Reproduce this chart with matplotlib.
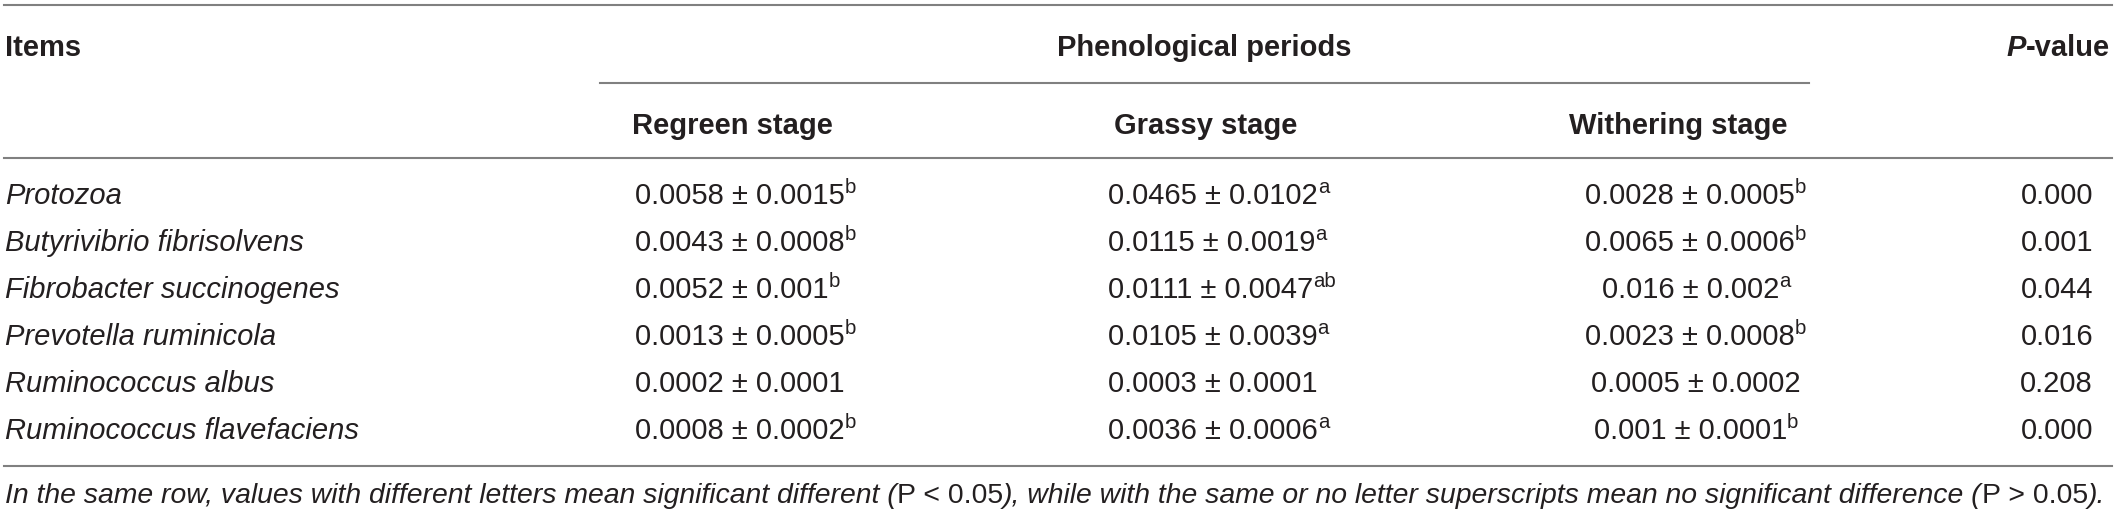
import matplotlib
matplotlib.use('Agg')
import matplotlib.pyplot as plt
from matplotlib.lines import Line2D
from matplotlib.transforms import IdentityTransform

# ---------------------------------------
#  Table content
# ---------------------------------------
items = ["Protozoa", "Butyrivibrio fibrisolvens", "Fibrobacter succinogenes",
         "Prevotella ruminicola", "Ruminococcus albus", "Ruminococcus flavefaciens"]

stages = ["Regreen stage", "Grassy stage", "Withering stage"]

regreen_mean = ["0.0058", "0.0043", "0.0052", "0.0013", "0.0002", "0.0008"]
regreen_sd   = ["0.0015", "0.0008", "0.001",  "0.0005", "0.0001", "0.0002"]
regreen_let  = ["b", "b", "b", "b", "", "b"]

grassy_mean = ["0.0465", "0.0115", "0.0111", "0.0105", "0.0003", "0.0036"]
grassy_sd   = ["0.0102", "0.0019", "0.0047", "0.0039", "0.0001", "0.0006"]
grassy_let  = ["a", "a", "ab", "a", "", "a"]

wither_mean = ["0.0028", "0.0065", "0.016", "0.0023", "0.0005", "0.001"]
wither_sd   = ["0.0005", "0.0006", "0.002", "0.0008", "0.0002", "0.0001"]
wither_let  = ["b", "b", "a", "b", "", "b"]

p_values = ["0.000", "0.001", "0.044", "0.016", "0.208", "0.000"]

# ---------------------------------------
#  Layout (pixels, y from top)
# ---------------------------------------
W, H, DPI = 2117, 515, 100
FONT = "Liberation Sans"
INK = "#231f20"
RULE = "#808080"
FS = 21
FS_NOTE = 20.4

X_ITEM, X_REG, X_GRA, X_WIT, X_P = 5, 635, 1108, 1696, 2093
Y_HEAD1, Y_HEAD2 = 56, 134
Y_ROW0, ROW_STEP = 204, 47
Y_NOTE = 503

fig = plt.figure(figsize=(W / DPI, H / DPI), dpi=DPI)
renderer = fig.canvas.get_renderer()


def put(x, y, runs, ha='left'):
    """Draw a sequence of styled text runs on one baseline."""
    arts = []
    cx = 0.0
    for s, kw in runs:
        kw = dict(kw)
        sup = kw.pop('sup', False)
        size = kw.pop('size', FS)
        dy = 0
        if sup:
            dy = size * DPI / 72 * 0.38
            size = size * 0.70
        t = fig.text(cx, H - y + dy, s, transform=IdentityTransform(),
                     fontsize=size, va='baseline', ha='left', color=INK,
                     family=FONT, **kw)
        cx += t.get_window_extent(renderer).width
        arts.append(t)
    shift = {'left': 0, 'center': -cx / 2, 'right': -cx}[ha]
    for t in arts:
        px, py = t.get_position()
        t.set_position((px + x + shift, py))


def hline(y, x0=4, x1=2112):
    fig.add_artist(Line2D([x0 / W, x1 / W], [1 - y / H, 1 - y / H],
                          color=RULE, lw=1.5))


def cell(mean, sd, let):
    runs = [(f"{mean} \u00b1 {sd}", {})]
    if let:
        runs.append((let, {'sup': True}))
    return runs


# rules
hline(5)
hline(83, 600, 1809)
hline(158)
hline(466)

# header
bold = {'weight': 'bold'}
put(X_ITEM, Y_HEAD1, [("Items", bold)])
put(1204, Y_HEAD1, [("Phenological periods", bold)], ha='center')
put(2110, Y_HEAD1, [("P", {'weight': 'bold', 'style': 'italic'}), ("-value", bold)], ha='right')
put(632, Y_HEAD2, [(stages[0], bold)])
put(1114, Y_HEAD2, [(stages[1], bold)])
put(1678, Y_HEAD2, [(stages[2], bold)], ha='center')

# body
for i, name in enumerate(items):
    y = Y_ROW0 + i * ROW_STEP
    put(X_ITEM, y, [(name, {'style': 'italic'})])
    put(X_REG, y, cell(regreen_mean[i], regreen_sd[i], regreen_let[i]))
    put(X_GRA, y, cell(grassy_mean[i], grassy_sd[i], grassy_let[i]))
    put(X_WIT, y, cell(wither_mean[i], wither_sd[i], wither_let[i]), ha='center')
    put(X_P, y, [(p_values[i], {})], ha='right')

# footnote
it = {'style': 'italic', 'size': FS_NOTE}
up = {'size': FS_NOTE}
put(X_ITEM, Y_NOTE, [
    ("In the same row, values with different letters mean significant different (", it),
    ("P < 0.05", up),
    ("), while with the same or no letter superscripts mean no significant difference (", it),
    ("P > 0.05", up),
    (").", it),
])

fig.savefig("out.png", dpi=DPI)
